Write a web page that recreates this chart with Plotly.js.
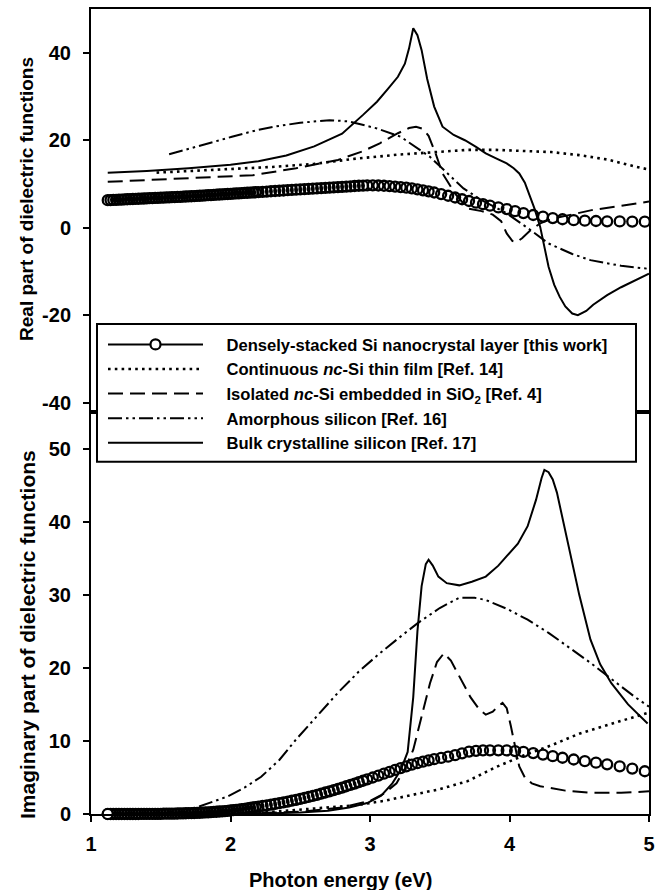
<!DOCTYPE html>
<html>
<head>
<meta charset="utf-8">
<script src="https://cdn.plot.ly/plotly-3.0.1.min.js"></script>
<style>html,body{margin:0;padding:0;background:#fff;}#plot{width:663px;height:890px;}</style>
</head>
<body>
<div id="plot"></div>
<script>
// ---- series names ----
const PAD = '\u00a0\u00a0\u00a0\u00a0';
const nameDense = 'Densely-stacked Si nanocrystal layer [this work]';
const nameCont = 'Continuous <i>nc</i>-Si thin film [Ref. 14]';
const nameIso = 'Isolated <i>nc</i>-Si embedded in SiO<sub>2</sub> [Ref. 4]';
const nameAmor = 'Amorphous silicon [Ref. 16]';
const nameBulk = 'Bulk crystalline silicon [Ref. 17]';

// ---- axis ticks ----
const xTicks = [1, 2, 3, 4, 5];
const realTicks = [-40, -20, 0, 20, 40];
const realTickText = ['-40', '-20', '0', '20', '40'];
const imagTicks = [0, 10, 20, 30, 40, 50];

// ---- densely-stacked Si nanocrystal layer (this work) ----
const eDense = [
 1.12,1.14,1.16,1.18,1.20,1.22,1.24,1.26,1.28,1.30,
 1.32,1.34,1.36,1.38,1.40,1.42,1.44,1.46,1.48,1.50,
 1.52,1.54,1.56,1.58,1.60,1.62,1.64,1.66,1.68,1.70,
 1.72,1.74,1.76,1.78,1.80,1.82,1.84,1.86,1.88,1.90,
 1.92,1.94,1.96,1.98,2.00,2.02,2.04,2.06,2.08,2.10,
 2.12,2.14,2.16,2.18,2.20,
 2.23,2.26,2.29,2.32,2.35,2.38,2.41,2.44,2.47,2.50,
 2.53,2.56,2.59,2.62,2.65,2.68,2.71,2.74,2.77,2.80,
 2.83,2.86,2.89,2.92,2.95,2.98,
 3.02,3.06,3.10,3.14,3.18,3.22,3.26,3.30,3.34,3.38,
 3.42,3.46,3.51,3.56,3.61,3.66,3.71,3.76,3.81,3.86,
 3.92,3.98,
 4.04,4.10,4.17,4.24,4.31,4.38,4.46,4.54,4.62,4.70,
 4.79,4.88,4.97];
const realDense = [
 6.30,6.33,6.36,6.39,6.42,6.45,6.48,6.51,6.54,6.57,
 6.60,6.63,6.66,6.69,6.72,6.75,6.78,6.81,6.84,6.87,
 6.90,6.93,6.96,6.99,7.02,7.05,7.08,7.11,7.14,7.17,
 7.20,7.24,7.28,7.32,7.36,7.40,7.44,7.48,7.52,7.56,
 7.60,7.64,7.68,7.72,7.76,7.80,7.84,7.88,7.92,7.96,
 8.00,8.04,8.08,8.12,8.16,
 8.22,8.28,8.34,8.40,8.46,8.52,8.58,8.64,8.70,8.76,
 8.82,8.88,8.94,9.00,9.06,9.12,9.18,9.24,9.30,9.36,
 9.42,9.48,9.54,9.60,9.64,9.68,
 9.70,9.66,9.60,9.52,9.42,9.30,9.15,8.98,8.78,8.56,
 8.32,8.06,7.70,7.32,6.92,6.52,6.12,5.74,5.38,5.04,
 4.64,4.28,
 3.80,3.36,2.92,2.56,2.22,1.94,1.74,1.62,1.54,1.48,
 1.44,1.42,1.40];
const imagDense = [
 0.00,0.00,0.00,0.00,0.00,0.00,0.00,0.00,0.00,0.00,
 0.00,0.00,0.01,0.01,0.01,0.02,0.02,0.02,0.03,0.03,
 0.04,0.04,0.05,0.05,0.06,0.07,0.08,0.09,0.10,0.11,
 0.12,0.14,0.15,0.17,0.19,0.21,0.23,0.25,0.28,0.31,
 0.34,0.37,0.40,0.44,0.48,0.52,0.56,0.61,0.66,0.71,
 0.77,0.83,0.89,0.95,1.01,
 1.10,1.19,1.28,1.38,1.48,1.59,1.70,1.82,1.94,2.07,
 2.20,2.34,2.48,2.63,2.78,2.94,3.10,3.27,3.44,3.62,
 3.80,3.98,4.17,4.36,4.55,4.74,
 5.00,5.26,5.52,5.78,6.03,6.28,6.52,6.75,6.96,7.16,
 7.34,7.50,7.68,7.85,8.05,8.30,8.55,8.65,8.70,8.72,
 8.72,8.70,
 8.62,8.50,8.34,8.14,7.92,7.70,7.46,7.24,7.02,6.80,
 6.52,6.22,5.85];

// ---- continuous nc-Si thin film [Ref. 14] ----
const eContReal = [1.47,1.7,2.0,2.3,2.6,2.9,3.2,3.5,3.7,3.9,4.1,4.3,4.5,4.7,4.9,5.0];
const realCont = [12.6,13.0,13.5,13.9,14.6,15.8,16.7,17.4,17.8,17.8,17.6,17.3,16.6,15.6,14.0,13.3];
const eContImag = [1.47,1.7,2.0,2.3,2.5,2.7,2.9,3.1,3.3,3.5,3.7,3.9,4.1,4.3,4.5,4.7,4.9,5.0];
const imagCont = [0.0,0.0,0.1,0.3,0.6,0.9,1.2,1.8,2.6,3.4,4.5,6.4,8.0,9.4,11.0,12.2,13.3,13.9];

// ---- isolated nc-Si embedded in SiO2 [Ref. 4] ----
const eIsoReal = [1.12,1.5,1.8,2.16,2.47,2.77,2.95,3.07,3.2,3.28,3.33,3.38,3.42,3.47,3.52,3.61,3.70,3.80,3.88,3.94,3.98,4.02,4.05,4.09,4.15,4.22,4.3,4.45,4.6,4.8,5.0];
const realIso = [10.5,11.0,11.5,12.0,13.6,15.5,17.5,19.3,21.6,22.8,23.1,22.6,21.0,17.0,12.4,7.8,4.4,3.8,3.0,1.5,-1.3,-3.0,-3.3,-2.4,-0.6,1.0,2.0,3.1,4.1,5.0,6.0];
const eIsoImag = [1.12,2.0,2.5,2.8,3.0,3.1,3.19,3.25,3.31,3.37,3.43,3.48,3.53,3.58,3.63,3.67,3.72,3.78,3.83,3.88,3.92,3.95,3.98,4.01,4.04,4.07,4.11,4.16,4.22,4.28,4.4,4.58,4.8,5.0];
const imagIso = [0,0.05,0.3,0.9,1.8,2.8,4.2,6.2,8.8,13.5,17.9,20.8,22.0,21.0,19.2,17.9,16.0,14.4,13.6,14.0,14.8,15.2,14.5,12.0,9.0,6.5,5.0,4.2,3.8,3.6,3.2,2.9,2.9,3.1];

// ---- amorphous silicon [Ref. 16] ----
const eAmorReal = [1.56,1.8,2.01,2.2,2.31,2.5,2.71,2.85,2.92,3.05,3.22,3.43,3.55,3.67,3.8,3.98,4.15,4.28,4.45,4.58,4.8,5.0];
const realAmor = [16.8,19.0,20.8,22.4,23.1,24.0,24.6,24.3,23.8,22.7,20.8,16.2,12.6,9.0,6.3,3.3,-0.5,-3.6,-6.0,-7.4,-8.7,-9.4];
const eAmorImag = [1.56,1.65,1.74,1.85,1.98,2.1,2.22,2.35,2.47,2.62,2.77,2.92,3.07,3.2,3.34,3.5,3.64,3.75,3.83,3.98,4.13,4.28,4.43,4.58,4.75,4.9,5.0];
const imagAmor = [0.0,0.3,0.8,1.5,2.4,3.6,5.1,7.4,10.2,13.4,16.6,19.5,22.0,24.0,26.1,28.2,29.6,29.6,29.3,28.1,26.6,24.8,22.8,20.7,18.2,16.0,14.7];

// ---- bulk crystalline silicon [Ref. 17] ----
const eBulkReal = [1.12,1.4,1.7,2.0,2.2,2.4,2.6,2.8,2.95,3.05,3.13,3.2,3.25,3.28,3.31,3.34,3.37,3.41,3.46,3.52,3.6,3.68,3.76,3.83,3.9,3.98,4.03,4.07,4.11,4.14,4.18,4.22,4.25,4.28,4.32,4.36,4.4,4.45,4.49,4.55,4.6,4.7,4.8,4.9,5.0];
const realBulk = [12.6,13.0,13.6,14.4,15.2,16.5,18.6,21.5,25.8,28.8,31.8,34.5,37.5,41.0,45.6,44.0,40.6,34.0,27.7,23.1,21.2,20.0,18.5,17.0,15.9,14.7,13.6,12.4,10.3,7.8,4.3,0.2,-4.5,-8.9,-13.0,-15.8,-18.0,-19.6,-20.0,-19.0,-17.6,-15.4,-13.6,-12.0,-10.5];
const eBulkImag = [1.12,1.5,2.0,2.3,2.5,2.7,2.85,2.98,3.08,3.16,3.22,3.27,3.31,3.34,3.37,3.40,3.42,3.45,3.49,3.55,3.64,3.73,3.83,3.92,3.98,4.06,4.13,4.19,4.23,4.25,4.28,4.31,4.34,4.38,4.43,4.50,4.58,4.65,4.73,4.85,4.99];
const imagBulk = [0,0,0.05,0.1,0.2,0.45,0.9,1.5,2.5,4.2,6.0,8.5,16.0,25.0,31.2,34.2,34.8,34.0,32.5,31.6,31.3,31.8,32.5,34.0,35.3,37.0,39.4,43.0,46.0,47.1,46.8,45.8,44.0,40.5,36.2,30.0,23.9,20.5,17.9,15.0,12.4];

// ---- styles ----
const K = '#000';
const FONT = 'Liberation Sans, Arial, sans-serif';
const lineBulk = {color: K, width: 2, dash: 'solid'};
const lineCont = {color: K, width: 2.6, dash: '2.6px,4.2px'};
const lineIso = {color: K, width: 2, dash: '15px,7px'};
const lineAmor = {color: K, width: 2, dash: '14px,4px,2.5px,4px,2.5px,4px'};
const markDense = {symbol: 'circle-open', size: 10, color: K, line: {width: 2.3, color: K}};

function tr(x, y, xa, ya, line, name, rank, show) {
  return {type: 'scatter', mode: 'lines', x: x, y: y, xaxis: xa, yaxis: ya, line: line,
    name: PAD + name, legendrank: rank, showlegend: show, hoverinfo: 'skip'};
}

const data = [
  // top panel (real part)
  tr(eContReal, realCont, 'x2', 'y2', lineCont, nameCont, 2, true),
  tr(eIsoReal, realIso, 'x2', 'y2', lineIso, nameIso, 3, true),
  tr(eAmorReal, realAmor, 'x2', 'y2', lineAmor, nameAmor, 4, true),
  tr(eBulkReal, realBulk, 'x2', 'y2', lineBulk, nameBulk, 5, true),
  // bottom panel (imaginary part)
  tr(eContImag, imagCont, 'x', 'y', lineCont, nameCont, 2, false),
  tr(eIsoImag, imagIso, 'x', 'y', lineIso, nameIso, 3, false),
  tr(eAmorImag, imagAmor, 'x', 'y', lineAmor, nameAmor, 4, false),
  tr(eBulkImag, imagBulk, 'x', 'y', lineBulk, nameBulk, 5, false),
  // this work: circles
  {type: 'scatter', mode: 'markers', x: eDense, y: realDense, xaxis: 'x2', yaxis: 'y2',
   marker: markDense, showlegend: false, cliponaxis: false, hoverinfo: 'skip'},
  {type: 'scatter', mode: 'markers', x: eDense, y: imagDense, xaxis: 'x', yaxis: 'y',
   marker: markDense, showlegend: false, cliponaxis: false, hoverinfo: 'skip'},
  // legend entry for this work (line + circle), drawn on the first measured point
  {type: 'scatter', mode: 'lines+markers', x: eDense.slice(0, 1), y: imagDense.slice(0, 1), xaxis: 'x', yaxis: 'y',
   line: {color: K, width: 2}, marker: {symbol: 'circle', size: 10, color: '#fff', line: {width: 2.2, color: K}},
   name: PAD + nameDense, legendrank: 1, showlegend: true, cliponaxis: false, hoverinfo: 'skip'}
];

const tickFont = {family: FONT, size: 20, color: K, weight: 'bold'};
const baseAxis = {showline: true, linecolor: K, linewidth: 2, mirror: true, showgrid: false,
  zeroline: false, ticks: 'outside', ticklen: 6, tickwidth: 2, tickcolor: K, tickfont: tickFont};

const layout = {
  width: 663, height: 890,
  margin: {l: 91, r: 14, t: 9, b: 76},
  paper_bgcolor: '#fff', plot_bgcolor: '#fff',
  font: {family: FONT, color: K},
  showlegend: true,
  xaxis: Object.assign({}, baseAxis, {range: [1, 5], tickmode: 'array', tickvals: xTicks,
    anchor: 'y', ticklabelstandoff: 5}),
  yaxis: Object.assign({}, baseAxis, {range: [0, 55.1], domain: [0, 0.5], tickmode: 'array',
    tickvals: imagTicks, anchor: 'x', ticklabelstandoff: 8}),
  xaxis2: Object.assign({}, baseAxis, {range: [1, 5], matches: 'x', anchor: 'y2',
    ticks: '', showticklabels: false}),
  yaxis2: Object.assign({}, baseAxis, {range: [-42, 50], domain: [0.5, 1], tickmode: 'array',
    tickvals: realTicks, ticktext: realTickText, anchor: 'x2', ticklabelstandoff: 8}),
  legend: {x: 0.0215, y: 0.6048, xanchor: 'left', yanchor: 'top', bgcolor: 'rgba(0,0,0,0)',
    borderwidth: 0, itemwidth: 95, traceorder: 'normal',
    font: {family: FONT, size: 16.6, color: K, weight: 'bold'}},
  shapes: [{type: 'rect', xref: 'paper', yref: 'paper', x0: 0.01075, x1: 0.9767, y0: 0.4376, y1: 0.6087,
    fillcolor: '#fff', line: {color: K, width: 2}, layer: 'above'}],
  annotations: [
    {text: 'Real part of dielectric functions', xref: 'paper', yref: 'paper', x: -0.1147, y: 0.764,
     textangle: -90, showarrow: false, xanchor: 'center', yanchor: 'middle',
     font: {family: FONT, size: 19, color: K, weight: 'bold'}},
    {text: 'Imaginary part of dielectric functions', xref: 'paper', yref: 'paper', x: -0.1147, y: 0.2236,
     textangle: -90, showarrow: false, xanchor: 'center', yanchor: 'middle',
     font: {family: FONT, size: 21, color: K, weight: 'bold'}},
    {text: 'Photon energy (eV)', xref: 'paper', yref: 'paper', x: 0.448, y: -0.082,
     showarrow: false, xanchor: 'center', yanchor: 'middle',
     font: {family: FONT, size: 20, color: K, weight: 'bold'}}
  ]
};

Plotly.newPlot('plot', data, layout, {staticPlot: true, displayModeBar: false});
</script>
</body>
</html>
